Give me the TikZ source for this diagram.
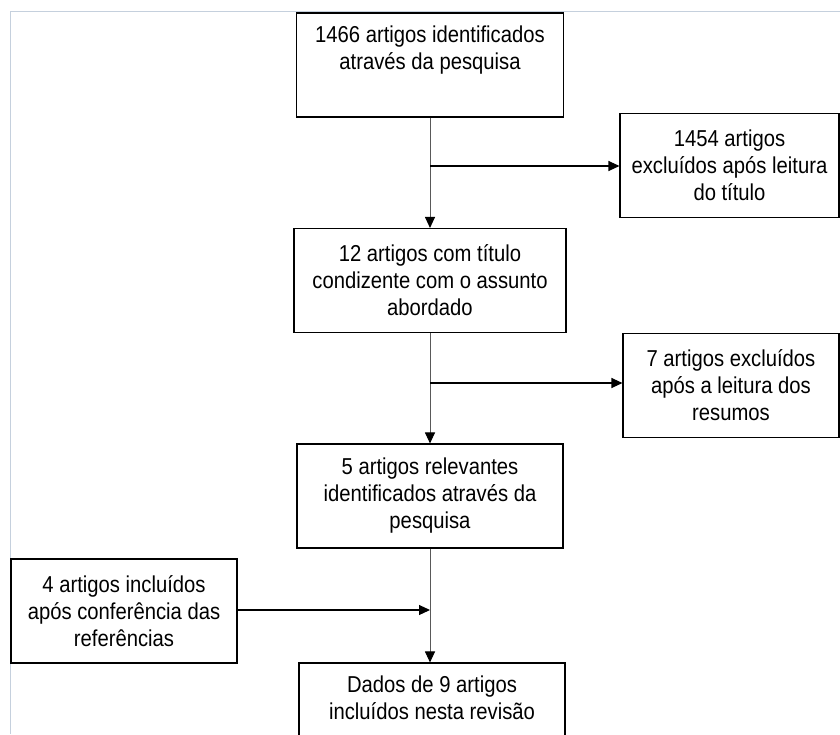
\documentclass[tikz,border=0pt]{standalone}
\usepackage{fontspec}
\setmainfont[FakeStretch=0.88]{Liberation Sans}
\usetikzlibrary{arrows.meta}
\definecolor{framegray}{RGB}{197,208,221}

\begin{document}
\begin{tikzpicture}[x=1pt, y=-1pt,
    font=\fontsize{23}{27}\selectfont,
    box/.style = {draw=black, line width=1.1pt, align=center,
                inner sep=0pt, minimum width=#1, minimum height=104pt},
    box/.default = 267pt,
    trunk/.style = {draw=black!65, line width=1pt,
                -{Triangle[length=11pt,width=10pt,color=black]}},
    branch/.style = {draw=black, line width=1.1pt,
                -{Triangle[length=11pt,width=10pt]}}
                    ]
        \path[use as bounding box, clip] (0,0) rectangle (840,734);
        \draw[framegray, line width=1pt] (10,734) -- (10,11) -- (840,11);
        \def\mx{430}
        % main column
        \node[box] at (\mx,65) (found) {1466 artigos identificados\\através da pesquisa\\\strut};
        \node[box=272pt] at (\mx,280.5) (title) {12 artigos com título\\condizente com o assunto\\abordado};
        \node[box=266pt] at (\mx,496) (relev) {5 artigos relevantes\\identificados através da\\pesquisa};
        \node[box=266pt] at (\mx+2,715) (final) {Dados de 9 artigos\\incluídos nesta revisão\\\strut};
        % side boxes
        \node[box=219pt] at (729.5,165.5) (excl1) {1454 artigos\\excluídos após leitura\\do título};
        \node[box=216pt] at (731,385.5) (excl2) {7 artigos excluídos\\após a leitura dos\\resumos};
        \node[box=226pt] at (124,611) (added) {4 artigos incluídos\\após conferência das\\referências};
        \foreach \y/\j in {166/j1, 383/j2, 610/j3}
            \coordinate (\j) at (\mx,\y);
        \draw[trunk] (found) -- (title);
        \draw[trunk] (title) -- (relev);
        \draw[trunk] (relev) -- (relev |- final.north);
        \draw[branch] (j1) -- (j1 -| excl1.west);
        \draw[branch] (j2) -- (j2 -| excl2.west);
        \draw[branch] (added.east |- j3) -- (j3);
    \end{tikzpicture}
\end{document}
